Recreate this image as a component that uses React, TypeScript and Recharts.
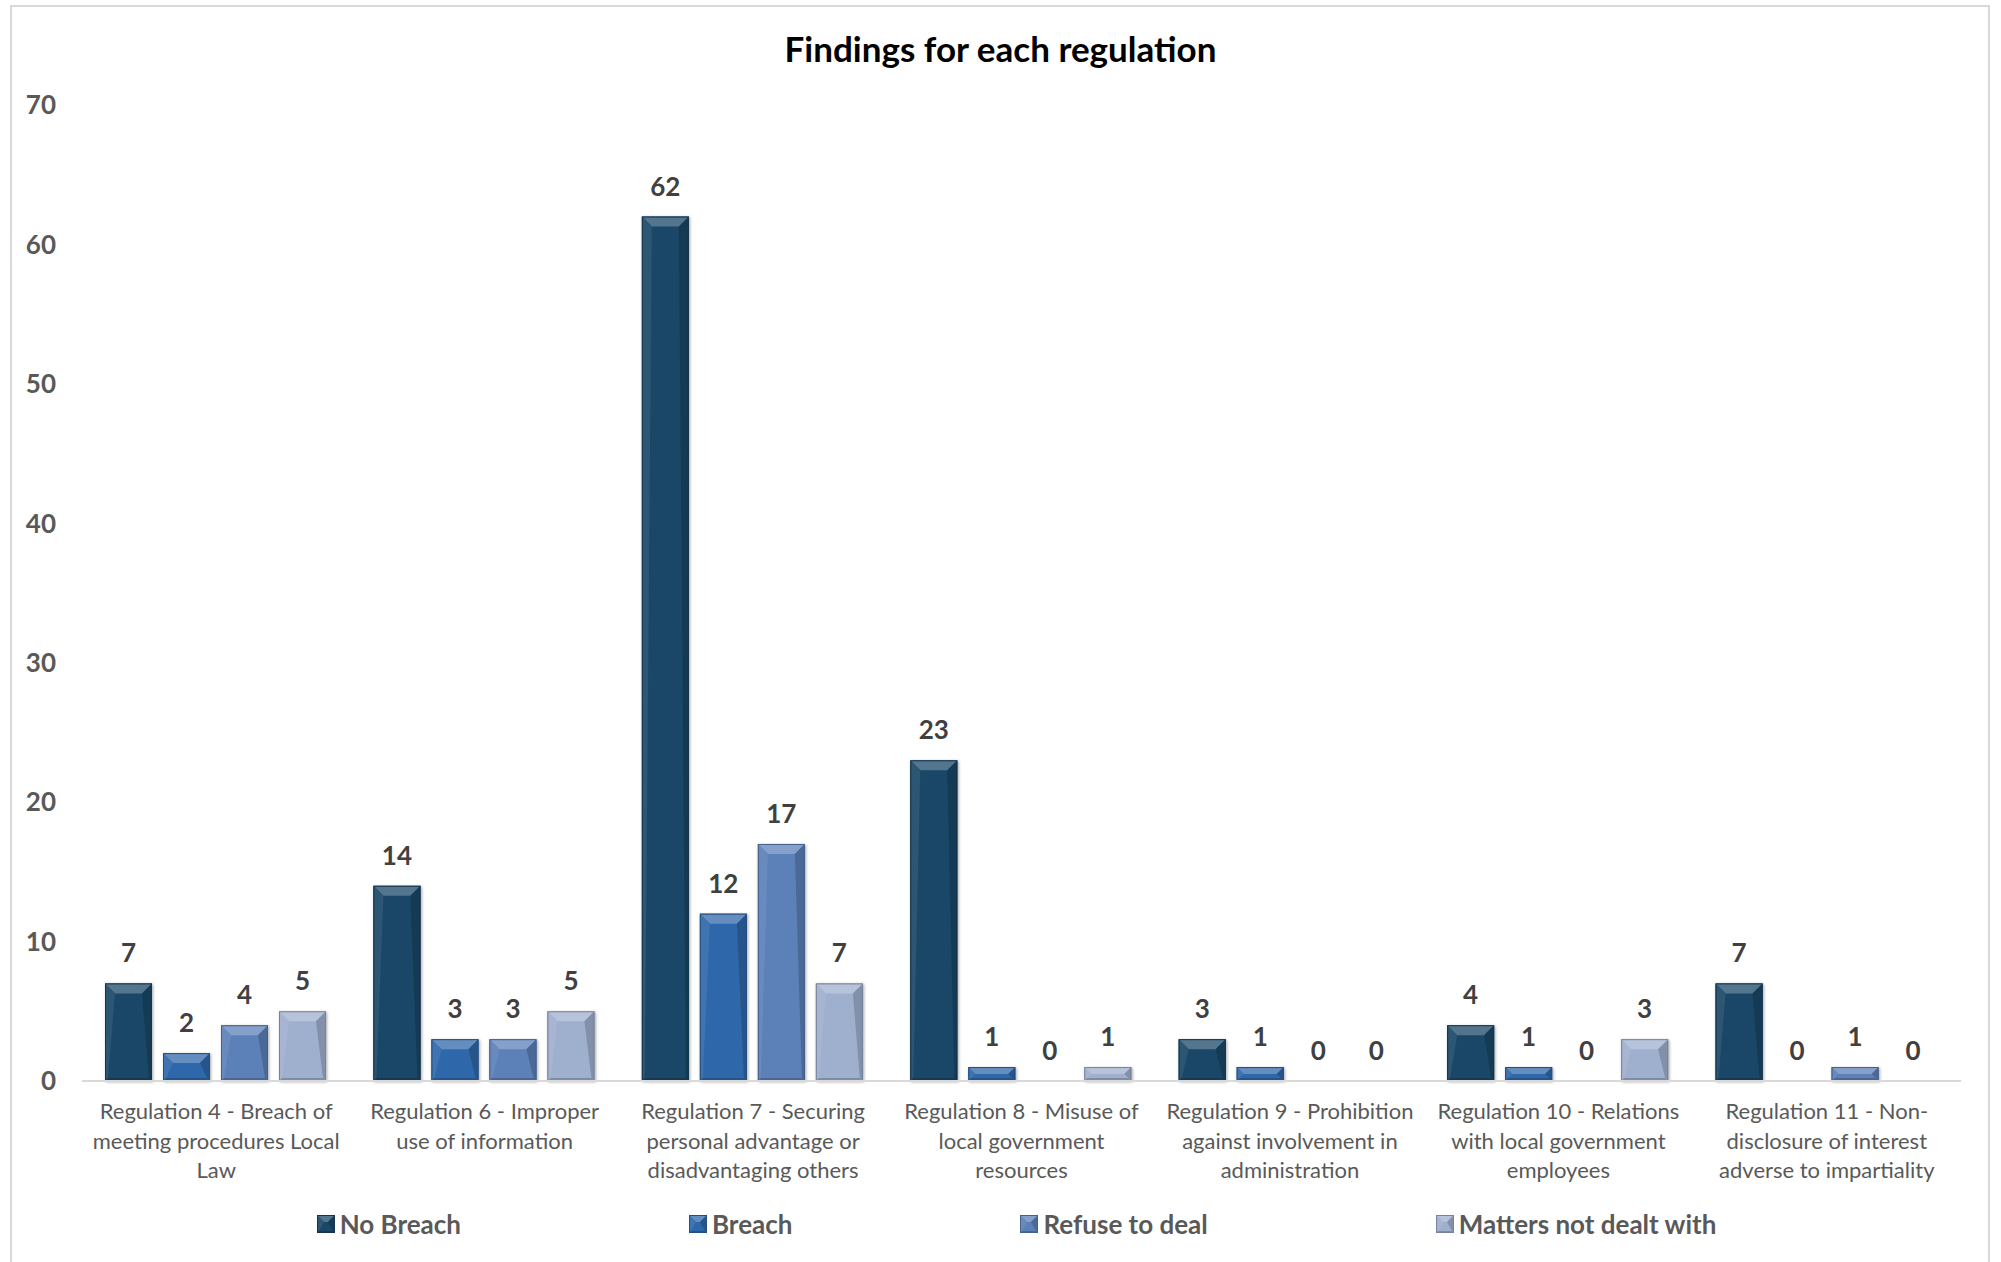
import React from "react";
import { Bar, BarChart, LabelList, Legend, XAxis, YAxis } from "recharts";

// Category labels, already broken into the lines used under each group
const regulationLines: string[][] = [
  ["Regulation 4 - Breach of", "meeting procedures Local", "Law"],
  ["Regulation 6 - Improper", "use of information"],
  ["Regulation 7 - Securing", "personal advantage or", "disadvantaging others"],
  ["Regulation 8 - Misuse of", "local government", "resources"],
  ["Regulation 9 - Prohibition", "against involvement in", "administration"],
  ["Regulation 10 - Relations", "with local government", "employees"],
  ["Regulation 11 - Non-", "disclosure of interest", "adverse to impartiality"],
];

const noBreach = [7, 14, 62, 23, 3, 4, 7];
const breach = [2, 3, 12, 1, 1, 1, 0];
const refuseToDeal = [4, 3, 17, 0, 0, 0, 1];
const mattersNotDealtWith = [5, 5, 7, 1, 0, 3, 0];

const yTicks = [0, 10, 20, 30, 40, 50, 60, 70];

const joinLines = (lines: string[]) =>
  lines.reduce((acc, l) => (acc === "" ? l : acc.endsWith("-") ? acc + l : acc + " " + l), "");

const categories = regulationLines.map(joinLines);

const series = [
  { key: "No Breach", values: noBreach, color: "#1A4767" },
  { key: "Breach", values: breach, color: "#2F68AA" },
  { key: "Refuse to deal", values: refuseToDeal, color: "#5C80B8" },
  { key: "Matters not dealt with", values: mattersNotDealtWith, color: "#9FAFCE" },
];

const rows = categories.map((name, i) => {
  const row: Record<string, string | number> = { name };
  for (const s of series) row[s.key] = s.values[i];
  return row;
});

const FONT = "Lato, 'Open Sans', sans-serif";

function mix(hex: string, target: number, amount: number) {
  const n = parseInt(hex.slice(1), 16);
  const ch = [(n >> 16) & 255, (n >> 8) & 255, n & 255].map((c) => Math.round(c + (target - c) * amount));
  return `rgb(${ch[0]},${ch[1]},${ch[2]})`;
}

// Angle-bevel look: lighter top facet, darker right/bottom edges
function bevelParts(x: number, y: number, w: number, h: number, color: string, top = 10, side = 3) {
  const t = Math.min(top, h / 2, w / 2);
  const s = Math.min(side, h / 2, w / 2);
  return (
    <>
      <rect x={x} y={y} width={w} height={h} fill={color} />
      <polygon points={`${x},${y} ${x + w},${y} ${x + w - t},${y + t} ${x + t},${y + t}`} fill={mix(color, 255, 0.25)} />
      <polygon points={`${x},${y} ${x + t},${y + t} ${x + s},${y + h - s} ${x},${y + h}`} fill={mix(color, 255, 0.08)} />
      <polygon points={`${x + w},${y} ${x + w},${y + h} ${x + w - s},${y + h - s} ${x + w - t},${y + t}`} fill={mix(color, 0, 0.18)} />
      <polygon points={`${x},${y + h} ${x + s},${y + h - s} ${x + w - s},${y + h - s} ${x + w},${y + h}`} fill={mix(color, 0, 0.2)} />
      <rect x={x + 0.5} y={y + 0.5} width={Math.max(w - 1, 0)} height={Math.max(h - 1, 0)} fill="none" stroke={mix(color, 0, 0.25)} strokeWidth={1} />
    </>
  );
}

function BevelBar(props: any) {
  const { x, y, width, height, fill } = props;
  if (!height || height <= 0) return null;
  return (
    <g style={{ filter: "drop-shadow(1px 1px 1.5px rgba(0,0,0,0.35))" }}>
      {bevelParts(x, y, width, height, fill)}
    </g>
  );
}

function RegulationTick(props: any) {
  const { x, y, payload } = props;
  const idx = categories.indexOf(payload.value);
  const lines = idx >= 0 ? regulationLines[idx] : [String(payload.value)];
  return (
    <text x={x} y={y + 38} textAnchor="middle" fill="#595959" fontSize={22} fontFamily={FONT}>
      {lines.map((line, i) => (
        <tspan key={i} x={x} dy={i === 0 ? 0 : 29.5}>
          {line}
        </tspan>
      ))}
    </text>
  );
}

function LegendContent() {
  return (
    <div
      style={{
        display: "flex",
        justifyContent: "center",
        alignItems: "center",
        gap: 228,
        paddingLeft: 32,
        height: 50,
        fontFamily: FONT,
      }}
    >
      {series.map((s) => (
        <div key={s.key} style={{ display: "flex", alignItems: "center", gap: 5 }}>
          <svg width={18} height={18}>
            {bevelParts(0, 0, 18, 18, s.color, 7, 2)}
          </svg>
          <span style={{ fontSize: 26, fontWeight: 700, color: "#595959" }}>{s.key}</span>
        </div>
      ))}
    </div>
  );
}

export default function App() {
  return (
    <div
      style={{
        position: "absolute",
        left: 0,
        top: 0,
        width: 2001,
        height: 1262,
        overflow: "hidden",
        background: "#fff",
        fontFamily: FONT,
      }}
    >
      <div
        style={{
          position: "absolute",
          left: 10,
          top: 5,
          width: 1976,
          height: 1300,
          border: "2px solid #d9d9d9",
        }}
      />
      <div
        style={{
          position: "absolute",
          left: 0,
          top: 28,
          width: 2001,
          textAlign: "center",
          fontSize: 35,
          fontWeight: 700,
          color: "#000",
          lineHeight: "40px",
        }}
      >
        Findings for each regulation
      </div>
      <div style={{ position: "absolute", left: 0, top: 0 }}>
        <BarChart
          width={2001}
          height={1262}
          data={rows}
          margin={{ top: 105, right: 40, left: 0, bottom: 0 }}
          barCategoryGap={23}
          barGap={11}
        >
          <XAxis
            dataKey="name"
            interval={0}
            height={131}
            tickSize={0}
            tickMargin={0}
            tick={<RegulationTick />}
            axisLine={{ stroke: "#d9d9d9", strokeWidth: 2 }}
          />
          <YAxis
            width={82}
            domain={[0, 70]}
            ticks={yTicks}
            axisLine={false}
            tickLine={false}
            tickSize={0}
            tickMargin={26}
            tick={{ fill: "#595959", fontSize: 26, fontWeight: 700, fontFamily: FONT }}
          />
          <Legend
            verticalAlign="bottom"
            height={50}
            content={<LegendContent />}
            wrapperStyle={{ left: 0, width: 2001, bottom: 13, height: 50 }}
          />
          {series.map((s) => (
            <Bar key={s.key} dataKey={s.key} fill={s.color} shape={<BevelBar />} isAnimationActive={false}>
              <LabelList
                dataKey={s.key}
                position="top"
                offset={21}
                fill="#404040"
                fontSize={26}
                fontWeight={700}
                fontFamily={FONT}
              />
            </Bar>
          ))}
        </BarChart>
      </div>
    </div>
  );
}
